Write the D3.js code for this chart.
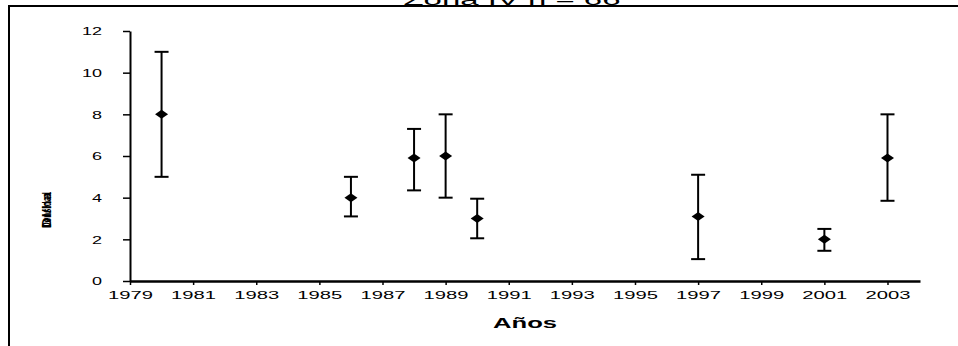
<!DOCTYPE html>
<html>
<head>
<meta charset="utf-8">
<script src="https://cdn.jsdelivr.net/npm/d3@7/dist/d3.min.js"></script>
<style>
  html, body { margin: 0; padding: 0; background: #fff; }
  svg { display: block; font-family: Arial, "Liberation Sans", sans-serif; }
</style>
</head>
<body>
<svg id="chart" width="958" height="346"></svg>
<script>
// Yearly means with lower / upper limits
const years  = [1980, 1986, 1988, 1989, 1990, 1997, 2001, 2003];
const means  = [8.0, 4.0, 5.9, 6.0, 3.0, 3.1, 2.0, 5.9];
const lows   = [5.0, 3.1, 4.35, 4.0, 2.05, 1.05, 1.45, 3.85];
const highs  = [11.0, 5.0, 7.3, 8.0, 3.95, 5.1, 2.5, 8.0];
const xTicks = [1979, 1981, 1983, 1985, 1987, 1989, 1991, 1993, 1995, 1997, 1999, 2001, 2003];
const yTicks = [0, 2, 4, 6, 8, 10, 12];

const titleText = "Zona IV   n = 66";
const xTitle = "Años";
const yTitles = ["Densidad", "Dl/ha"];

const FONT = "Arial, 'Liberation Sans', sans-serif";
const svg = d3.select("#chart");

const x = d3.scaleLinear().domain([1979, 2004.03]).range([130, 920]);
const y = d3.scaleLinear().domain([0, 12]).range([281, 31]);

// outer frame (top and left edges)
svg.append("path")
  .attr("d", "M9,346 V6 H958")
  .attr("fill", "none").attr("stroke", "#000").attr("stroke-width", 2);

// title, partly cut by the top of the page (wide, stretched lettering)
svg.append("text")
  .attr("x", 512).attr("y", 5)
  .attr("text-anchor", "middle")
  .attr("font-size", 14)
  .attr("textLength", 217).attr("lengthAdjust", "spacingAndGlyphs")
  .text(titleText);

// y axis
const yAxis = svg.append("g")
  .attr("transform", "translate(130,0)")
  .call(d3.axisLeft(y).tickValues(yTicks).tickSize(7).tickSizeOuter(0).tickPadding(21));
yAxis.select(".domain").attr("stroke-width", 2);
yAxis.selectAll(".tick line").attr("stroke-width", 1.5);
yAxis.selectAll("text")
  .attr("font-size", 11).attr("font-family", FONT)
  .attr("dy", "0.36em")
  .attr("textLength", d => String(d).length * 10)
  .attr("lengthAdjust", "spacingAndGlyphs");

// x axis
const xAxis = svg.append("g")
  .attr("transform", "translate(0,281)")
  .call(d3.axisBottom(x).tickValues(xTicks).tickFormat(d3.format("d")).tickSize(4).tickSizeOuter(0).tickPadding(6));
xAxis.select(".domain").attr("stroke-width", 2.5);
xAxis.selectAll(".tick line").attr("stroke-width", 1.5);
xAxis.selectAll("text")
  .attr("font-size", 11.5).attr("font-family", FONT)
  .attr("textLength", 45).attr("lengthAdjust", "spacingAndGlyphs");

// axis titles
svg.append("text")
  .attr("x", 525).attr("y", 328)
  .attr("text-anchor", "middle")
  .attr("font-size", 15).attr("font-weight", "bold")
  .attr("textLength", 64).attr("lengthAdjust", "spacingAndGlyphs")
  .text(xTitle);

yTitles.forEach(t => {
  svg.append("text")
    .attr("transform", "translate(51,210) rotate(-90)")
    .attr("text-anchor", "middle")
    .attr("font-size", 13).attr("font-weight", "bold")
    .attr("textLength", 36).attr("lengthAdjust", "spacingAndGlyphs")
    .text(t);
});

// error bars
const data = years.map((yr, i) => ({ yr, m: means[i], lo: lows[i], hi: highs[i] }));
const capW = 7;
const bars = svg.append("g").attr("stroke", "#000").attr("stroke-width", 2).attr("fill", "none");
data.forEach(d => {
  const cx = x(d.yr);
  bars.append("line").attr("x1", cx).attr("x2", cx).attr("y1", y(d.lo)).attr("y2", y(d.hi));
  bars.append("line").attr("x1", cx - capW).attr("x2", cx + capW).attr("y1", y(d.hi)).attr("y2", y(d.hi));
  bars.append("line").attr("x1", cx - capW).attr("x2", cx + capW).attr("y1", y(d.lo)).attr("y2", y(d.lo));
});

// mean markers (diamonds)
svg.append("g").selectAll("path")
  .data(data)
  .join("path")
  .attr("d", d => {
    const cx = x(d.yr), cy = y(d.m);
    return `M${cx - 6.5},${cy} L${cx},${cy - 4.5} L${cx + 6.5},${cy} L${cx},${cy + 4.5} Z`;
  })
  .attr("fill", "#000");
</script>
</body>
</html>
